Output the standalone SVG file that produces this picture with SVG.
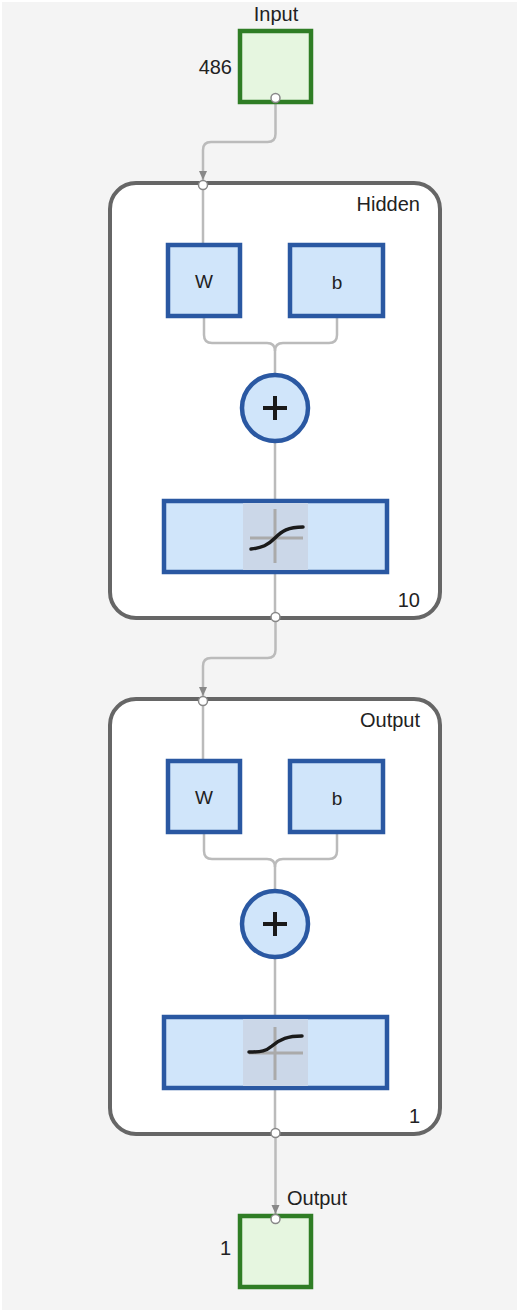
<svg xmlns="http://www.w3.org/2000/svg" width="519" height="1312" viewBox="0 0 519 1312">
<style>
text{font-family:"Liberation Sans",Arial,sans-serif;fill:#222}
.lbl{font-size:20px}
.wb{font-size:19px;text-anchor:middle}
.layer{fill:#fff;stroke:#666;stroke-width:4}
.blk{fill:#d0e5fa;stroke:#2a58a2;stroke-width:4.5}
.io{fill:#e6f6e0;stroke:#2f7d25;stroke-width:4.5}
.wire{fill:none;stroke:#bbb;stroke-width:2.5}
.port{fill:#fff;stroke:#888;stroke-width:1.5}
.ax{stroke:#aaa;stroke-width:3}
.crv{fill:none;stroke:#1a1a1a;stroke-width:3.5;stroke-linecap:round}
</style>
<defs>
<marker id="arr" markerWidth="10" markerHeight="10" refX="9" refY="5" orient="auto" markerUnits="userSpaceOnUse">
<path d="M0,1 L9,5 L0,9 Z" fill="#888"/>
</marker>
</defs>
<rect x="0" y="0" width="519" height="1312" fill="#fff"/>
<rect x="2" y="2" width="515" height="1308" fill="#f4f4f4"/>

<g id="connectors">
<path class="wire" d="M275.5,98 V134 Q275.5,142 267.5,142 H211 Q203,142 203,150 V180" marker-end="url(#arr)"/>
<path class="wire" d="M275.5,617 V650 Q275.5,658 267.5,658 H211 Q203,658 203,666 V696" marker-end="url(#arr)"/>
<path class="wire" d="M275.5,1134 V1214" marker-end="url(#arr)"/>
</g>

<g id="input">
<rect class="io" x="240" y="31" width="71" height="71"/>
<text class="lbl" x="276" y="21" text-anchor="middle">Input</text>
<text class="lbl" x="232" y="74" text-anchor="end">486</text>
<circle class="port" cx="275.5" cy="98" r="4.5"/>
</g>

<g id="hidden">
<rect class="layer" x="110" y="183" width="330" height="435" rx="26"/>
<text class="lbl" x="420" y="211" text-anchor="end">Hidden</text>
<text class="lbl" x="420" y="607" text-anchor="end">10</text>
<g class="inner">
<path class="wire" d="M203,185 V243"/>
<path class="wire" d="M204,318 V335 Q204,343 212,343 H267 Q275,343 275,351 V374"/>
<path class="wire" d="M337,318 V335 Q337,343 329,343 H283 Q275,343 275,351"/>
<path class="wire" d="M275,442 V499"/>
<path class="wire" d="M275,574 V617"/>
<rect class="blk" x="168" y="245" width="72" height="71"/>
<text class="wb" x="204" y="288">W</text>
<rect class="blk" x="290" y="245" width="93" height="71"/>
<text class="wb" x="337" y="289">b</text>
<circle class="blk" cx="275" cy="408" r="33"/>
<path d="M263,408 H287 M275,396 V420" stroke="#1a1a1a" stroke-width="4"/>
<rect class="blk" x="164" y="501" width="223" height="71"/>
<rect x="243" y="503" width="65" height="67" fill="#cbd7e8"/>
<path class="ax" d="M250,538 H303 M275,509 V563"/>
<path class="crv" d="M251,549 C262,548 268,545 275,538 C282,531 288,527 303,527"/>
</g>
<circle class="port" cx="203" cy="185" r="4.5"/>
<circle class="port" cx="275.5" cy="617" r="4.5"/>
</g>

<g id="output-layer">
<rect class="layer" x="110" y="699" width="330" height="435" rx="26"/>
<text class="lbl" x="420" y="727" text-anchor="end">Output</text>
<text class="lbl" x="420" y="1123" text-anchor="end">1</text>
<g transform="translate(0,516)">
<path class="wire" d="M203,185 V243"/>
<path class="wire" d="M204,318 V335 Q204,343 212,343 H267 Q275,343 275,351 V374"/>
<path class="wire" d="M337,318 V335 Q337,343 329,343 H283 Q275,343 275,351"/>
<path class="wire" d="M275,442 V499"/>
<path class="wire" d="M275,574 V617"/>
<rect class="blk" x="168" y="245" width="72" height="71"/>
<text class="wb" x="204" y="288">W</text>
<rect class="blk" x="290" y="245" width="93" height="71"/>
<text class="wb" x="337" y="289">b</text>
<circle class="blk" cx="275" cy="408" r="33"/>
<path d="M263,408 H287 M275,396 V420" stroke="#1a1a1a" stroke-width="4"/>
<rect class="blk" x="164" y="501" width="223" height="71"/>
<rect x="243" y="503" width="65" height="67" fill="#cbd7e8"/>
<path class="ax" d="M249,537 H303 M275,511 V564"/>
<path class="crv" d="M249,536 C262,536 266,535 272,530 C280,523 288,520 302,520"/>
</g>
<circle class="port" cx="203" cy="701" r="4.5"/>
<circle class="port" cx="275.5" cy="1133" r="4.5"/>
</g>

<g id="output">
<rect class="io" x="240" y="1216" width="71" height="71"/>
<text class="lbl" x="287" y="1205">Output</text>
<text class="lbl" x="231" y="1255" text-anchor="end">1</text>
<circle class="port" cx="275.5" cy="1219" r="4.5"/>
</g>
</svg>
